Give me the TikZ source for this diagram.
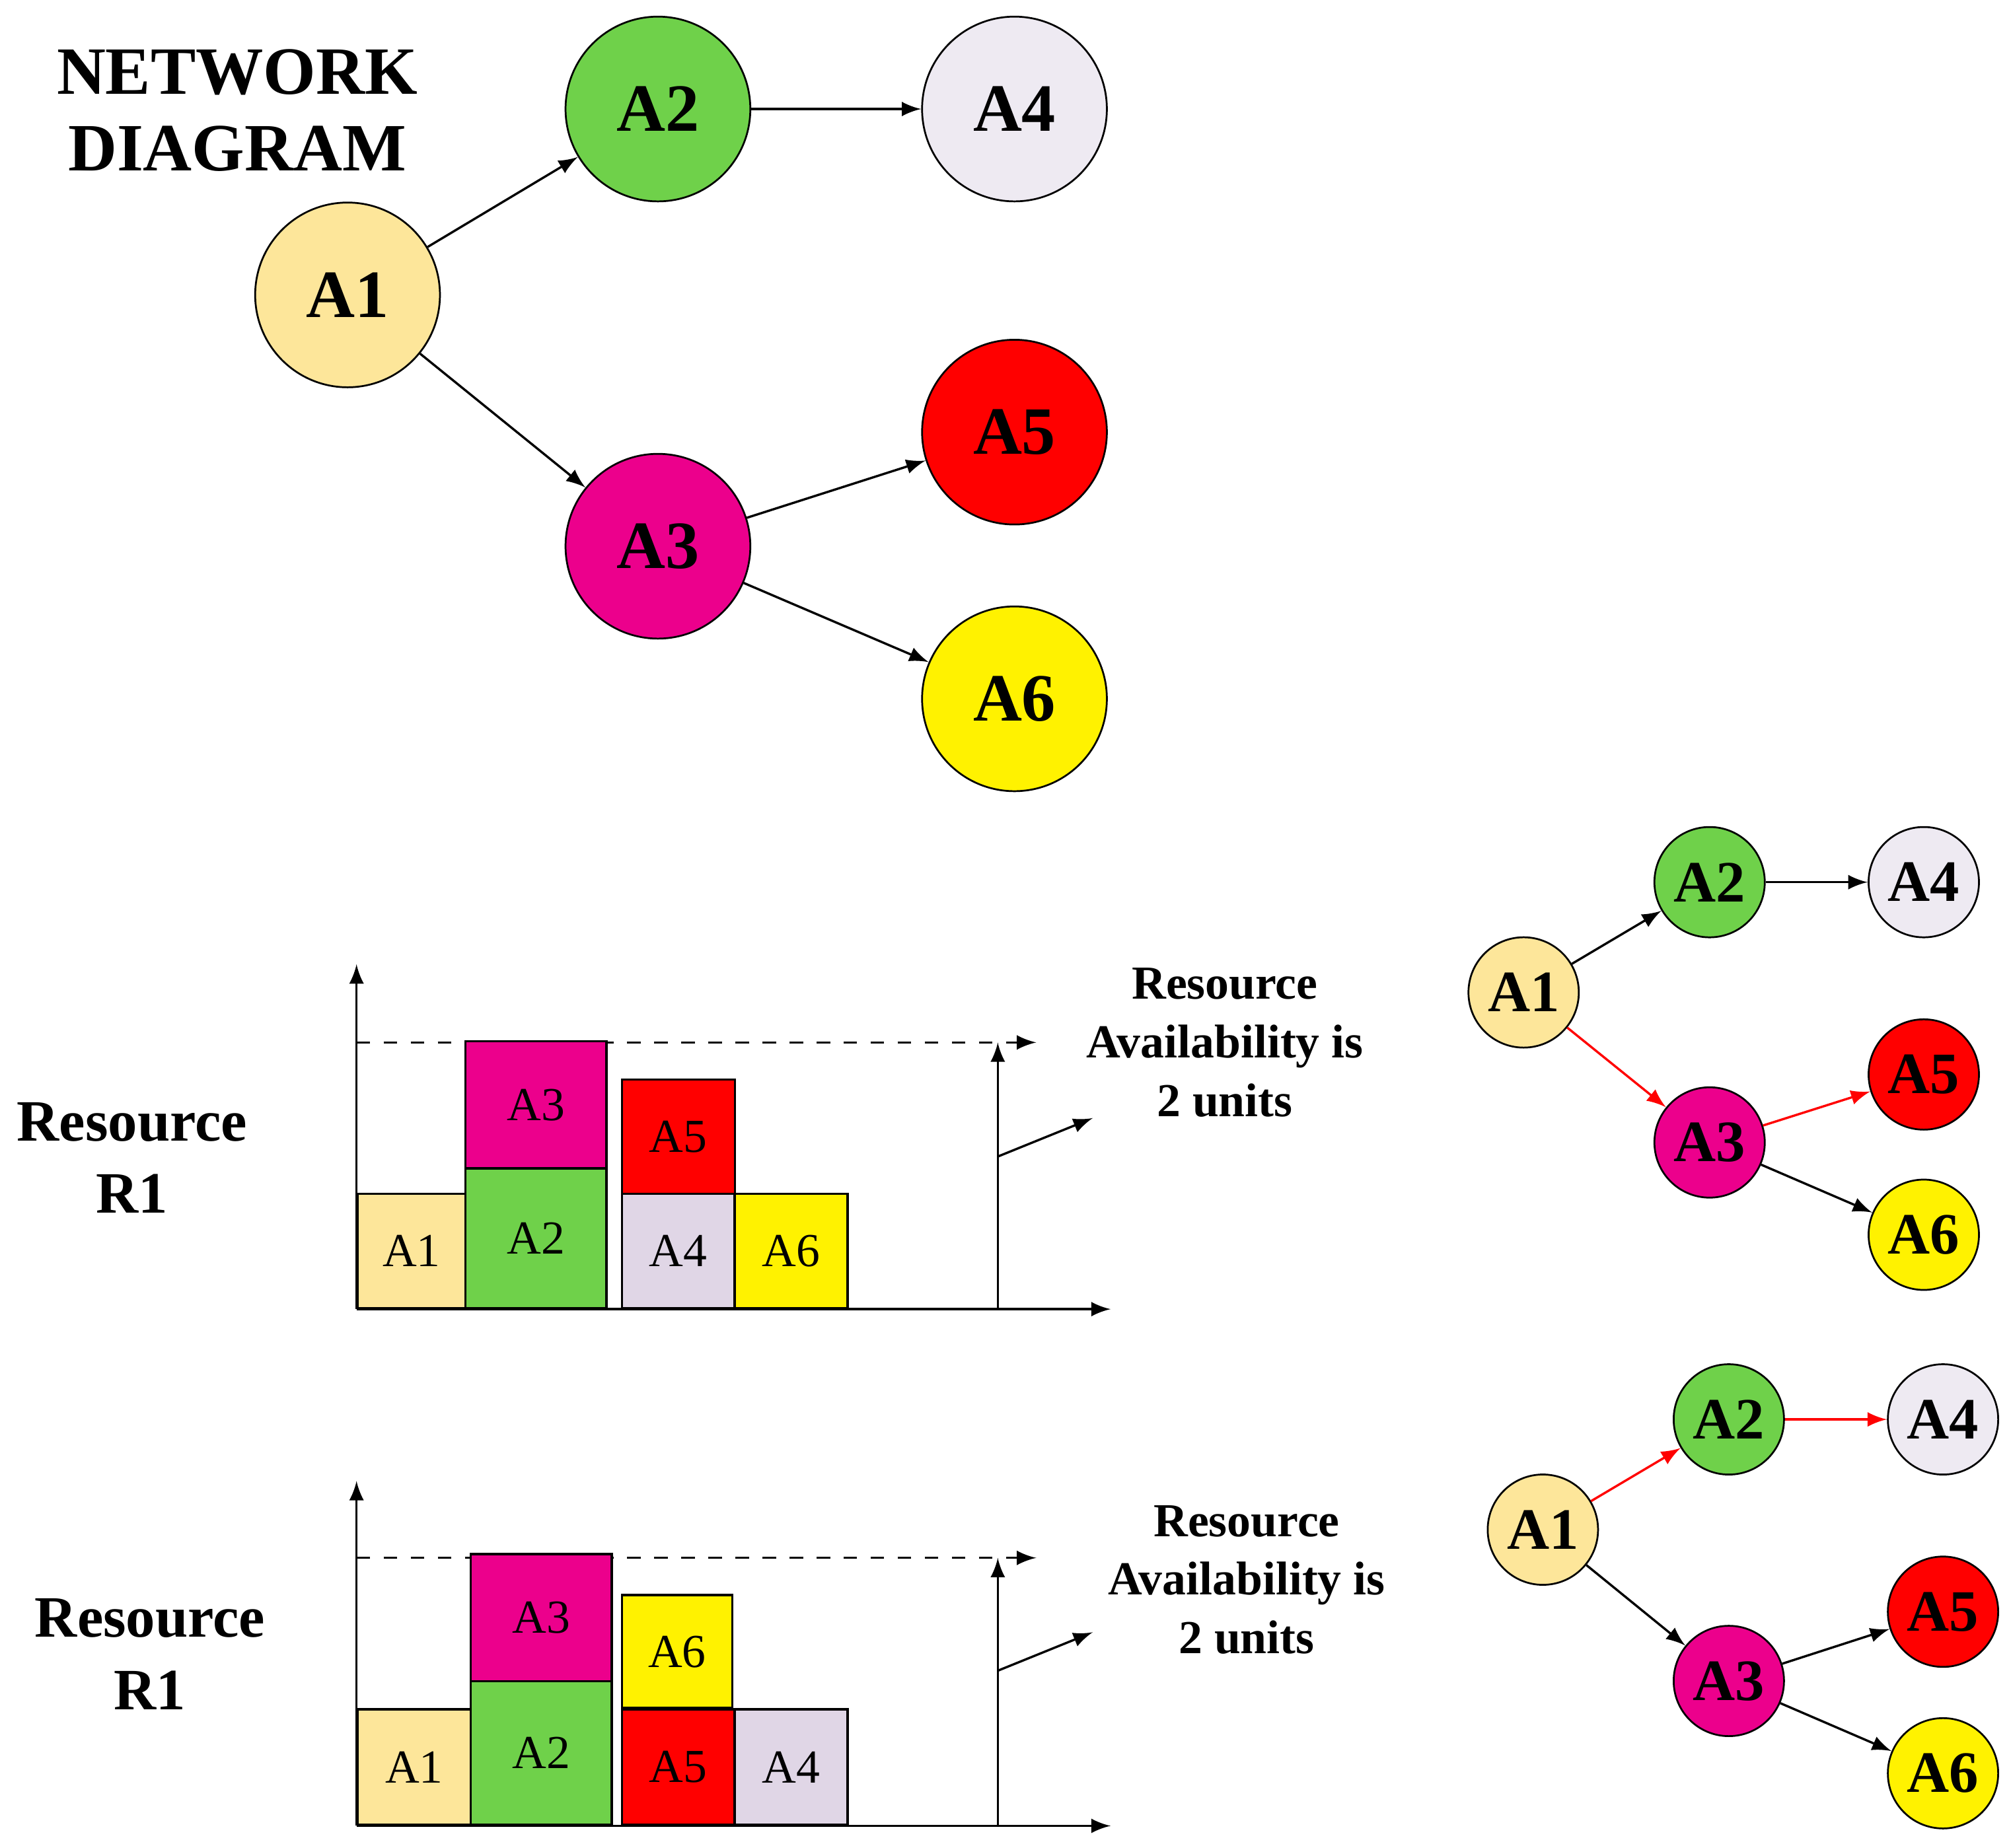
\documentclass[tikz,border=0pt]{standalone}
\usepackage{fontspec}
\setmainfont{Liberation Serif}
\begin{document}
\begin{tikzpicture}[x=0.01cm,y=-0.01cm,
 big/.style={circle,draw,minimum size=1.44cm,inner sep=0pt,font=\fontsize{15}{15}\selectfont\bfseries},
 sm/.style={circle,draw,minimum size=0.86cm,inner sep=0pt,font=\fontsize{13}{13}\selectfont\bfseries},
 ar/.style={-latex,line width=0.5pt},
 rar/.style={-latex,line width=0.5pt,red},
 bar/.style={draw,line width=0.5pt,font=\fontsize{10.5}{10.5}\selectfont},
 lab/.style={font=\fontsize{10.5}{13}\selectfont\bfseries,align=center},
 res/.style={font=\fontsize{13}{16}\selectfont\bfseries,align=center}]
\definecolor{cA1}{HTML}{FDE69A}\definecolor{cA2}{HTML}{6FD14A}\definecolor{cA4}{HTML}{EEEAF2}
\definecolor{cA4b}{HTML}{E0D6E6}
\useasboundingbox (0,0) rectangle (1568,1441);
\node[font=\fontsize{15}{17}\selectfont\bfseries,align=center] (title) at (185,86) {NETWORK\\DIAGRAM};
\node[big,fill=cA1] (a1) at (271,230) {A1};
\node[big,fill=cA2] (a2) at (513,85) {A2};
\node[big,fill=cA4] (a4) at (791,85) {A4};
\node[big,fill=red] (a5) at (791,337) {A5};
\node[big,fill=magenta] (a3) at (513,426) {A3};
\node[big,fill=yellow] (a6) at (791,545) {A6};
\draw[ar] (a1)--(a2); \draw[ar] (a2)--(a4); \draw[ar] (a1)--(a3);
\draw[ar] (a3)--(a5); \draw[ar] (a3)--(a6);
% chart 1
\coordinate (o1) at (278,1021); \coordinate (y1) at (278,752); \coordinate (x1) at (866,1021);
\draw[ar] (o1)--(y1); \draw[ar] (o1)--(x1);
\coordinate (d1a) at (278,813); \coordinate (d1b) at (808,813);
\draw[ar,dashed] (d1a)--(d1b);
\node[bar,fill=cA1,minimum width=0.84cm,minimum height=0.89cm,anchor=south west] (b1) at (278,1021) {A1};
\node[bar,fill=cA2,minimum width=1.10cm,minimum height=1.09cm,anchor=south west] (b2) at (362,1021) {A2};
\node[bar,fill=magenta,minimum width=1.10cm,minimum height=0.99cm,anchor=south west] (b3) at (362,912) {A3};
\node[bar,fill=cA4b,minimum width=0.88cm,minimum height=0.89cm,anchor=south west] (b4) at (484,1021) {A4};
\node[bar,fill=red,minimum width=0.88cm,minimum height=0.89cm,anchor=south west] (b5) at (484,932) {A5};
\node[bar,fill=yellow,minimum width=0.88cm,minimum height=0.89cm,anchor=south west] (b6) at (572,1021) {A6};
\coordinate (v1a) at (778,1021); \coordinate (v1b) at (778,813);
\draw[ar] (v1a)--(v1b);
\coordinate (p1a) at (778,902); \coordinate (p1b) at (852,872);
\draw[ar] (p1a)--(p1b);
\node[lab] (t1) at (955,813) {Resource\\Availability is\\2 units};
\node[res] (r1) at (103,903) {Resource\\R1};
% small net 1
\node[sm,fill=cA1] (s1) at (1188,774) {A1};
\node[sm,fill=cA2] (s2) at (1333,688) {A2};
\node[sm,fill=cA4] (s4) at (1500,688) {A4};
\node[sm,fill=red] (s5) at (1500,838) {A5};
\node[sm,fill=magenta] (s3) at (1333,891) {A3};
\node[sm,fill=yellow] (s6) at (1500,963) {A6};
\draw[ar] (s1)--(s2); \draw[ar] (s2)--(s4); \draw[rar] (s1)--(s3);
\draw[rar] (s3)--(s5); \draw[ar] (s3)--(s6);
% chart 2
\coordinate (o2) at (278,1424); \coordinate (y2) at (278,1155); \coordinate (x2) at (866,1424);
\draw[ar] (o2)--(y2); \draw[ar] (o2)--(x2);
\coordinate (d2a) at (278,1215); \coordinate (d2b) at (808,1215);
\draw[ar,dashed] (d2a)--(d2b);
\node[bar,fill=cA1,minimum width=0.88cm,minimum height=0.90cm,anchor=south west] (c1) at (278,1424) {A1};
\node[bar,fill=cA2,minimum width=1.10cm,minimum height=1.12cm,anchor=south west] (c2) at (366,1424) {A2};
\node[bar,fill=magenta,minimum width=1.10cm,minimum height=0.99cm,anchor=south west] (c3) at (366,1312) {A3};
\node[bar,fill=red,minimum width=0.88cm,minimum height=0.90cm,anchor=south west] (c5) at (484,1424) {A5};
\node[bar,fill=yellow,minimum width=0.86cm,minimum height=0.88cm,anchor=south west] (c6) at (484,1333) {A6};
\node[bar,fill=cA4b,minimum width=0.88cm,minimum height=0.90cm,anchor=south west] (c4) at (572,1424) {A4};
\coordinate (v2a) at (778,1424); \coordinate (v2b) at (778,1215);
\draw[ar] (v2a)--(v2b);
\coordinate (p2a) at (778,1303); \coordinate (p2b) at (852,1273);
\draw[ar] (p2a)--(p2b);
\node[lab] (t2) at (972,1232) {Resource\\Availability is\\2 units};
\node[res] (r2) at (117,1290) {Resource\\R1};
% small net 2
\node[sm,fill=cA1] (u1) at (1203,1193) {A1};
\node[sm,fill=cA2] (u2) at (1348,1107) {A2};
\node[sm,fill=cA4] (u4) at (1515,1107) {A4};
\node[sm,fill=red] (u5) at (1515,1257) {A5};
\node[sm,fill=magenta] (u3) at (1348,1311) {A3};
\node[sm,fill=yellow] (u6) at (1515,1383) {A6};
\draw[rar] (u1)--(u2); \draw[rar] (u2)--(u4); \draw[ar] (u1)--(u3);
\draw[ar] (u3)--(u5); \draw[ar] (u3)--(u6);
\end{tikzpicture}
\end{document}
